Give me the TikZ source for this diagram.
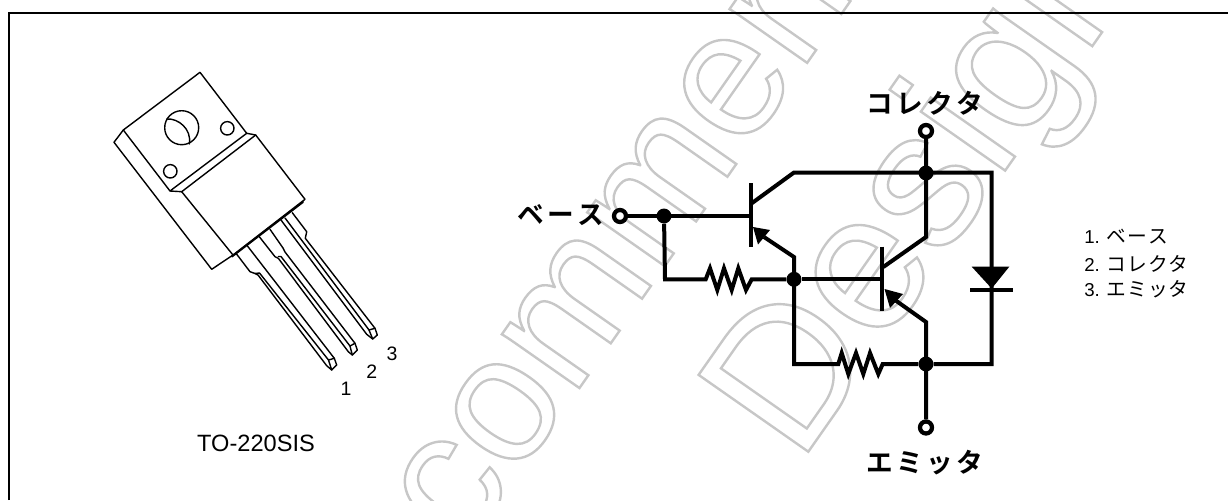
\documentclass[tikz,border=0pt]{standalone}
\usepackage{fontspec}
\setmainfont{Liberation Sans}
\newfontfamily\jpb{Noto Sans CJK JP Bold}
\newfontfamily\jpr{Noto Sans CJK JP}
\newcommand{\outl}{\special{pdf:code q 1 Tr 1.8 w 0.78 G}}
\newcommand{\outlend}{\special{pdf:code Q}}
\newcommand{\kn}{\jpr\fontsize{14.8pt}{16pt}\selectfont}
\tikzset{
  x=0.75pt,y=-0.75pt,
  pkg/.style={line width=1.05pt,line join=round,line cap=round},
  wire/.style={line width=3pt,line join=miter,line cap=butt},
  dot/.style={circle,fill=black,inner sep=0pt,minimum size=11.2pt},
  term/.style={circle,draw=black,fill=white,line width=3.2pt,inner sep=0pt,minimum size=9pt},
  bigjp/.style={font=\jpb\fontsize{20pt}{20pt}\selectfont,inner sep=0pt},
  lab/.style={font=\fontsize{14.6pt}{16pt}\selectfont,inner sep=0pt},
  pkname/.style={font=\fontsize{17.7pt}{20pt}\selectfont,inner sep=0pt},
  listtxt/.style={font=\fontsize{14pt}{16pt}\selectfont,inner sep=0pt,anchor=west},
  wmark/.style={inner sep=0pt,rotate=55,anchor=base west}
}
\begin{document}
\begin{tikzpicture}
\useasboundingbox (0,0) rectangle (1228,500);
\clip (0,0) rectangle (1228,500);
% watermark
\node[wmark] (wm1) at (333,740) {\fontsize{134pt}{134pt}\selectfont\outl Recommended\outlend};
\node[wmark] (wm2) at (799,465) {\fontsize{146pt}{146pt}\selectfont\outl Design\outlend};
% frame
\draw[line width=1.5pt] (9,500) -- (9,13.3) -- (1228,13.3);
% package
\draw[pkg] (200,72.3) -- (123.3,130) -- (114,142.3) -- (211.7,269.3) -- (233,255) -- (305,199.3) -- (255.7,135) -- (246.7,133.3) -- (200,72.3);
\draw[pkg] (123.3,130) -- (170,191) -- (246.7,133.3);
\draw[pkg] (170,191) -- (181.7,191.7) -- (255.7,135);
\draw[pkg] (181.7,191.7) -- (233,255);
\draw[pkg,line width=1.5pt] (232,256.5) -- (303,202);
\draw[pkg] (181.7,127.7) circle[radius=17];
\draw[pkg] (166.7,119) .. controls (178,118) and (192,129) .. (189.3,144);
\draw[pkg] (227.3,128.3) circle[radius=6.7];
\draw[pkg] (170.3,171.3) circle[radius=6.7];
% leads
\draw[pkg] (236,253.3) -- (250,271.7) -- (255,273.5) -- (258,275) -- (326.7,365.7) -- (331.7,370) -- (336.7,365) -- (334.3,358.3) -- (246.7,245);
\draw[pkg] (255,273.5) -- (259.5,273) -- (328.5,360) -- (331.7,370);
\draw[pkg] (328.5,360) -- (334.3,358.3);
\draw[pkg] (259.3,236.7) -- (275,256.7) -- (278.3,258.3) -- (348.3,351.7) -- (352.3,355) -- (357.3,350) -- (355,343.3) -- (285,252) -- (283,248) -- (270,229.3);
\draw[pkg] (278.3,256.5) -- (281,256.5) -- (350,346) -- (352.3,355);
\draw[pkg] (350,346) -- (355,343.3);
\draw[pkg] (281,220) -- (366.7,334.3) -- (372.7,339) -- (377.3,335) -- (375,328.3) -- (305.3,238.3) -- (306.7,231.7) -- (292.3,212.7);
\draw[pkg] (285,218) -- (369,330) -- (372.7,339);
\draw[pkg] (369,330) -- (375,328.3);
% pin labels
\node[lab] (p1) at (346,389) {1};
\node[lab] (p2) at (371.7,372) {2};
\node[lab] (p3) at (392,354) {3};
\node[pkname] (pk) at (256,443) {TO-220SIS};
% circuit nodes
\node[term] (tb) at (620,216) {};
\node[term] (tc) at (926,131) {};
\node[term] (te) at (926,427.5) {};
\node[dot] (d1) at (664,216) {};
\node[dot] (d2) at (926,173) {};
\node[dot] (d3) at (794,279.3) {};
\node[dot] (d4) at (926,364) {};
\coordinate (q1b) at (750.7,216);
\coordinate (q2b) at (882.3,279.3);
% wires
\draw[wire] (tb) -- (q1b);
\draw[wire] (750.7,183.3) -- (750.7,246.7);
\draw[wire] (751.7,203.3) -- (794,172.5) -- (991.7,172.5) -- (991.7,364) -- (d4);
\draw[wire] (tc) -- (926,237) -- (883.3,267);
\draw[wire] (882.3,246.7) -- (882.3,310.7);
\draw[wire] (d3) -- (q2b);
\draw[wire] (d1) -- (665,279.3) -- (705.7,279.3) -- (710,268.3) -- (717.3,290) -- (724,268.3) -- (731.7,290) -- (738.3,268.3) -- (746,290) -- (751.7,279.3) -- (d3);
\draw[wire] (764,237) -- (794,257) -- (794,364) -- (838.3,364) -- (841.7,353) -- (848.3,374) -- (856,353) -- (863.3,374) -- (870,353) -- (878.3,374) -- (882.7,364) -- (d4);
\draw[wire] (895,300) -- (926,322) -- (te);
% arrowheads
\fill (753,227) -- (770,230) -- (758,244.5) -- cycle;
\fill (884.5,289) -- (903,294) -- (890,308) -- cycle;
% diode
\fill (971.7,266.7) -- (1009.3,266.7) -- (991.7,288.5) -- cycle;
\draw[wire] (970,290) -- (1013.3,290);
% labels
\node[bigjp] (lc) at (924.5,103) {コ\kern2.5pt レ\kern2.5pt ク\kern2.5pt タ};
\node[bigjp] (le) at (924.5,463) {エ\kern2.5pt ミ\kern2.5pt ッ\kern2.5pt タ};
\node[bigjp] (lb) at (561,215) {ベ\kern2.5pt ー\kern2.5pt ス};
\node[listtxt] (l1) at (1084,236.7) {1.\kern5pt {\kn ベ\kern.8pt ー\kern.8pt ス}};
\node[listtxt] (l2) at (1084,263.5) {2.\kern5pt {\kn コ\kern.8pt レ\kern.8pt ク\kern.8pt タ}};
\node[listtxt] (l3) at (1084,289.5) {3.\kern5pt {\kn エ\kern.8pt ミ\kern.8pt ッ\kern.8pt タ}};
\end{tikzpicture}
\end{document}
